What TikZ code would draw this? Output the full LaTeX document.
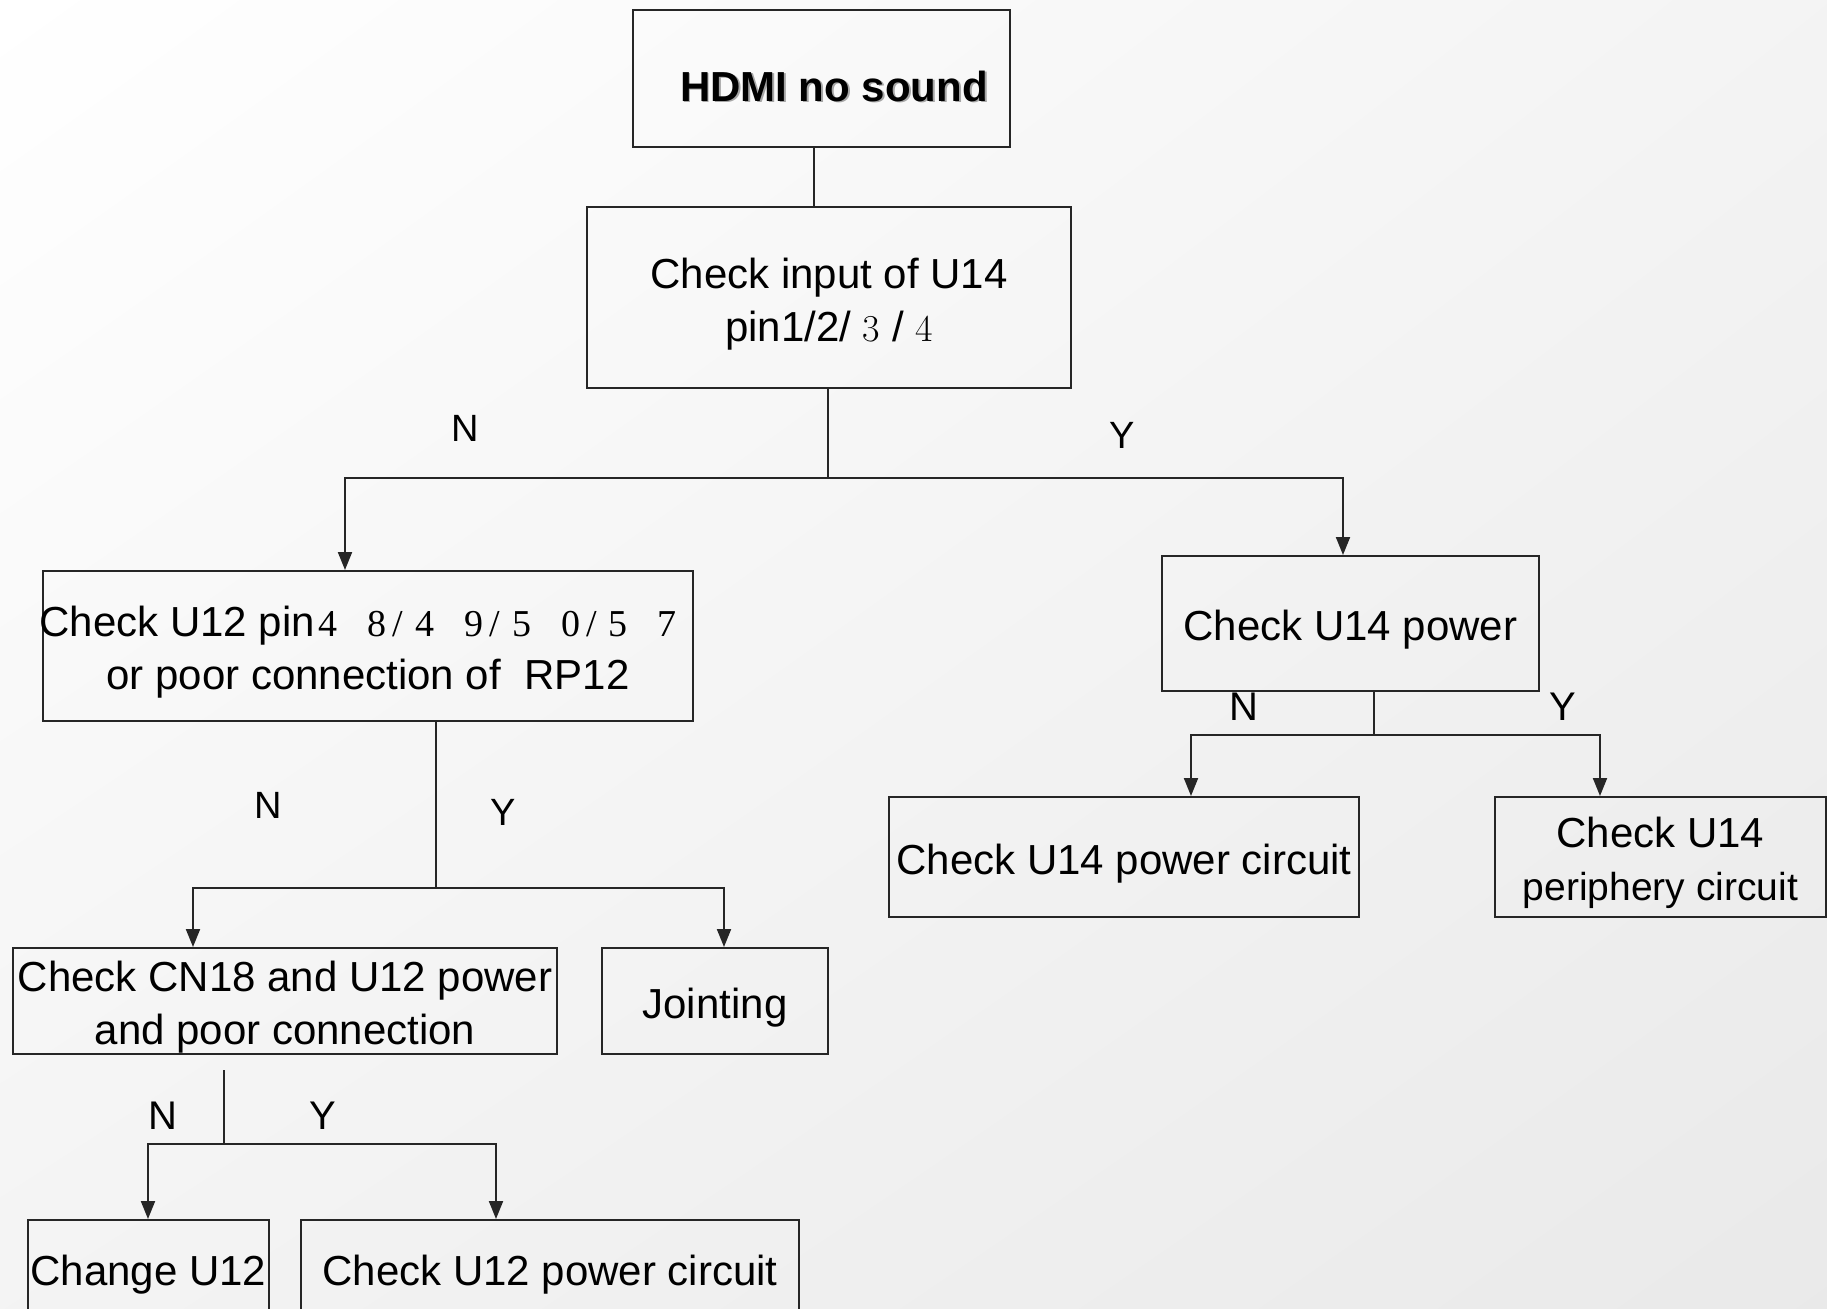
\documentclass[tikz,border=0pt]{standalone}
\usepackage{fontspec}
\newfontfamily\fC{Liberation Sans}
\newfontfamily\fS{Liberation Serif}
\newcommand\topstrut{\rule{0pt}{21.5pt}}
\usetikzlibrary{arrows.meta,shadings}
\begin{document}
\begin{tikzpicture}[x=0.5pt,y=-0.5pt,
  box/.style={draw=black!85, line width=1pt, inner sep=0pt, align=center, rectangle,
    font=\fC\fontsize{21pt}{26.5pt}\selectfont},
  conn/.style={line width=1pt, draw=black!85},
  arr/.style={conn, -{Triangle[length=9pt,width=7pt]}},
  lab/.style={inner sep=0pt, font=\fC\fontsize{19pt}{19pt}\selectfont},
  labbig/.style={inner sep=0pt, font=\fC\fontsize{20pt}{20pt}\selectfont}]
\useasboundingbox (0,0) rectangle (1827,1308);
\clip (0,0) rectangle (1827,1308);
\shade[upper left=white, upper right=black!4.5, lower left=black!4.5, lower right=black!8.5]
  (0,0) rectangle (1827,1308);

\node[box, minimum width=188.5pt, minimum height=68.5pt, text height=22.5pt, text depth=0pt,
  font=\fC\bfseries\fontsize{21pt}{21pt}\selectfont] (hdmi) at (821.5,78.5)
  {\hspace*{12.5pt}\makebox[0pt][l]{\raisebox{-0.9pt}[0pt][0pt]{\hspace{0.9pt}\textcolor{black!35}{HDMI no sound}}}HDMI no sound};

\node[box, minimum width=242pt, minimum height=90.5pt] (in) at (829,297.5)
  {\topstrut Check input of U14\\pin1/2/ {\rmfamily\fontsize{19pt}{19pt}\selectfont 3} / {\rmfamily\fontsize{19pt}{19pt}\selectfont 4}};

\node[box, minimum width=325pt, minimum height=75pt] (u12) at (368,646)
  {\topstrut\hspace*{-10pt}Check U12 pin{\fS\fontsize{19pt}{19pt}\selectfont\hspace{2pt}4\hspace{15pt}8\hspace{3pt}/\hspace{6pt}4\hspace{15pt}9\hspace{3pt}/\hspace{6pt}5\hspace{15pt}0\hspace{3pt}/\hspace{6pt}5\hspace{15pt}7}\\or poor connection of\ \ RP12};

\node[box, minimum width=188.5pt, minimum height=67.5pt] (pw) at (1350.5,623.5) {\topstrut Check U14 power};

\node[box, minimum width=235pt, minimum height=60pt] (pc) at (1124,857) {\topstrut Check U14 power circuit};

\node[box, minimum width=165.5pt, minimum height=60pt] (per) at (1660.5,857)
  {\topstrut Check U14\\{\fontsize{19.5pt}{26.5pt}\selectfont periphery circuit}};

\node[box, minimum width=272pt, minimum height=53pt] (cn) at (285,1001)
  {\topstrut Check CN18 and U12 power\\and poor connection};

\node[box, minimum width=113pt, minimum height=53pt] (jo) at (715,1001) {\topstrut Jointing};

\node[box, minimum width=120.5pt, minimum height=48pt] (ch) at (148.5,1268) {\topstrut Change U12};

\node[box, minimum width=249pt, minimum height=48pt] (cp) at (550,1268) {\topstrut Check U12 power circuit};

% connectors
\draw[conn] (hdmi.south -| 814,0) -- (in.north -| 814,0);
\coordinate (j1) at (828,478);
\draw[conn] (in.south -| j1) -- (j1);
\draw[arr] (j1) -| (u12.north -| 345,0);
\draw[arr] (j1) -| (pw.north -| 1343,0);

\coordinate (j2) at (1374,735);
\draw[conn] (pw.south -| j2) -- (j2);
\draw[arr] (j2) -| (pc.north -| 1191,0);
\draw[arr] (j2) -| (per.north -| 1600,0);

\coordinate (j3) at (436,888);
\draw[conn] (u12.south -| j3) -- (j3);
\draw[arr] (j3) -| (cn.north -| 193,0);
\draw[arr] (j3) -| (jo.north -| 724,0);

\coordinate (t4) at (224,1070);
\coordinate (j4) at (224,1144);
\draw[conn] (t4) -- (j4);
\draw[arr] (j4) -| (ch.north -| 148,0);
\draw[arr] (j4) -| (cp.north -| 496,0);

% labels
\node[lab] (n1) at (465,428) {N};
\node[lab] (y1) at (1122,435) {Y};
\node[labbig] (n2) at (1244,707) {N};
\node[labbig] (y2) at (1563,707) {Y};
\node[lab] (n3) at (268,805) {N};
\node[lab] (y3) at (503,812) {Y};
\node[labbig] (n4) at (163,1116) {N};
\node[labbig] (y4) at (323,1116) {Y};
\end{tikzpicture}
\end{document}
